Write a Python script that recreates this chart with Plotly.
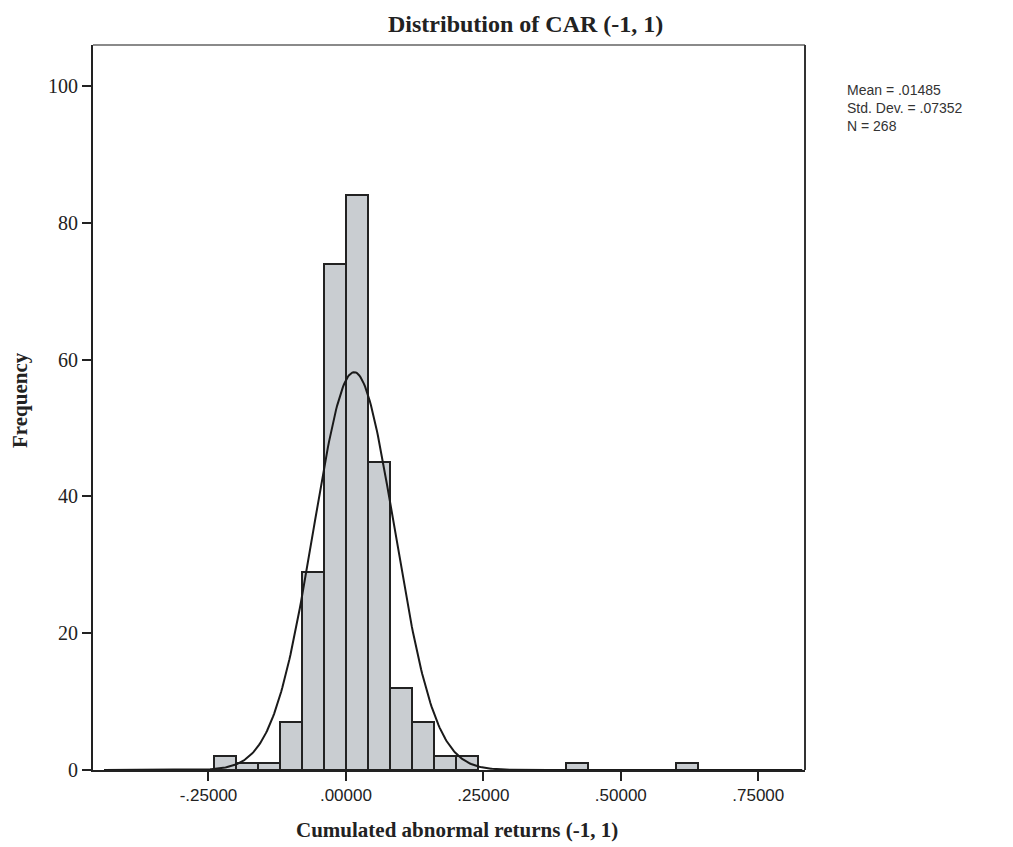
import numpy as np
import plotly.graph_objects as go

# Histogram data (bin left edges and frequencies)
bin_left = [-0.24, -0.20, -0.16, -0.12, -0.08, -0.04, 0.00, 0.04, 0.08, 0.12, 0.16, 0.20, 0.40, 0.60]
counts = [2, 1, 1, 7, 29, 74, 84, 45, 12, 7, 2, 2, 1, 1]
bin_width = 0.04

# Summary statistics shown on the chart
mean_val = 0.01485
std_val = 0.07352
n_obs = 268

x_tickvals = [-0.25, 0.0, 0.25, 0.50, 0.75]
x_ticktext = ["-.25000", ".00000", ".25000", ".50000", ".75000"]
y_tickvals = [0, 20, 40, 60, 80, 100]

centers = [b + bin_width / 2 for b in bin_left]

# Normal curve fitted with the reported mean and std dev, scaled to counts
xc = np.linspace(-0.44, 0.83, 600)
yc = n_obs * bin_width / (std_val * np.sqrt(2 * np.pi)) * np.exp(-0.5 * ((xc - mean_val) / std_val) ** 2)

L, R, T, B = 93, 805, 45, 770
PW, PH = R - L, B - T

fig = go.Figure()
fig.add_trace(go.Bar(
    x=centers, y=counts, width=bin_width,
    marker=dict(color="#c9cdd1", line=dict(color="#222222", width=2)),
    showlegend=False, hoverinfo="x+y"))
fig.add_trace(go.Scatter(
    x=xc, y=yc, mode="lines", line=dict(color="#1a1a1a", width=2),
    showlegend=False, hoverinfo="skip"))

fig.update_layout(
    width=1013, height=847,
    margin=dict(l=L, r=1013 - R, t=T, b=847 - B),
    paper_bgcolor="white", plot_bgcolor="white",
    bargap=0,
    font=dict(family="Liberation Serif", color="#222222"),
    xaxis=dict(
        range=[-0.46, 0.835], tickvals=x_tickvals, ticktext=x_ticktext,
        ticks="outside", ticklen=9, tickwidth=2, tickcolor="#222222",
        showgrid=False, zeroline=False,
        showline=True, linecolor="#222222", linewidth=2,
        tickfont=dict(family="Liberation Sans", size=17, color="#222222"),
    ),
    yaxis=dict(
        range=[0, 106], tickvals=y_tickvals,
        ticks="outside", ticklen=9, tickwidth=2, tickcolor="#222222",
        showgrid=False, zeroline=False,
        showline=True, linecolor="#222222", linewidth=2,
        tickfont=dict(family="Liberation Serif", size=20, color="#222222"),
    ),
    shapes=[
        dict(type="line", xref="paper", yref="paper", x0=0, x1=1, y0=1, y1=1,
             line=dict(color="#8a8a8a", width=2)),
        dict(type="line", xref="paper", yref="paper", x0=1, x1=1, y0=0, y1=1,
             line=dict(color="#333333", width=2)),
    ],
    annotations=[
        dict(text="<b>Distribution of CAR (-1, 1)</b>", xref="paper", yref="paper",
             x=(525 - L) / PW, y=1 + (T - 24) / PH, yanchor="middle", showarrow=False,
             font=dict(family="Liberation Serif", size=24, color="#222222")),
        dict(text="<b>Cumulated abnormal returns (-1, 1)</b>", xref="paper", yref="paper",
             x=(457 - L) / PW, y=-(830 - B) / PH, yanchor="middle", showarrow=False,
             font=dict(family="Liberation Serif", size=21, color="#222222")),
        dict(text="<b>Frequency</b>", xref="paper", yref="paper",
             x=-(L - 20) / PW, y=(B - 400) / PH, xanchor="center", yanchor="middle",
             textangle=-90, showarrow=False,
             font=dict(family="Liberation Serif", size=21, color="#222222")),
        dict(text=f"Mean = .{str(mean_val).split('.')[1]}<br>Std. Dev. = .{str(std_val).split('.')[1]}<br>N = {n_obs}",
             xref="paper", yref="paper", x=1, xshift=40, y=(B - 80) / PH,
             xanchor="left", yanchor="top", align="left", showarrow=False,
             font=dict(family="Liberation Sans", size=14, color="#333333")),
    ],
)

fig.write_html("out.html")
